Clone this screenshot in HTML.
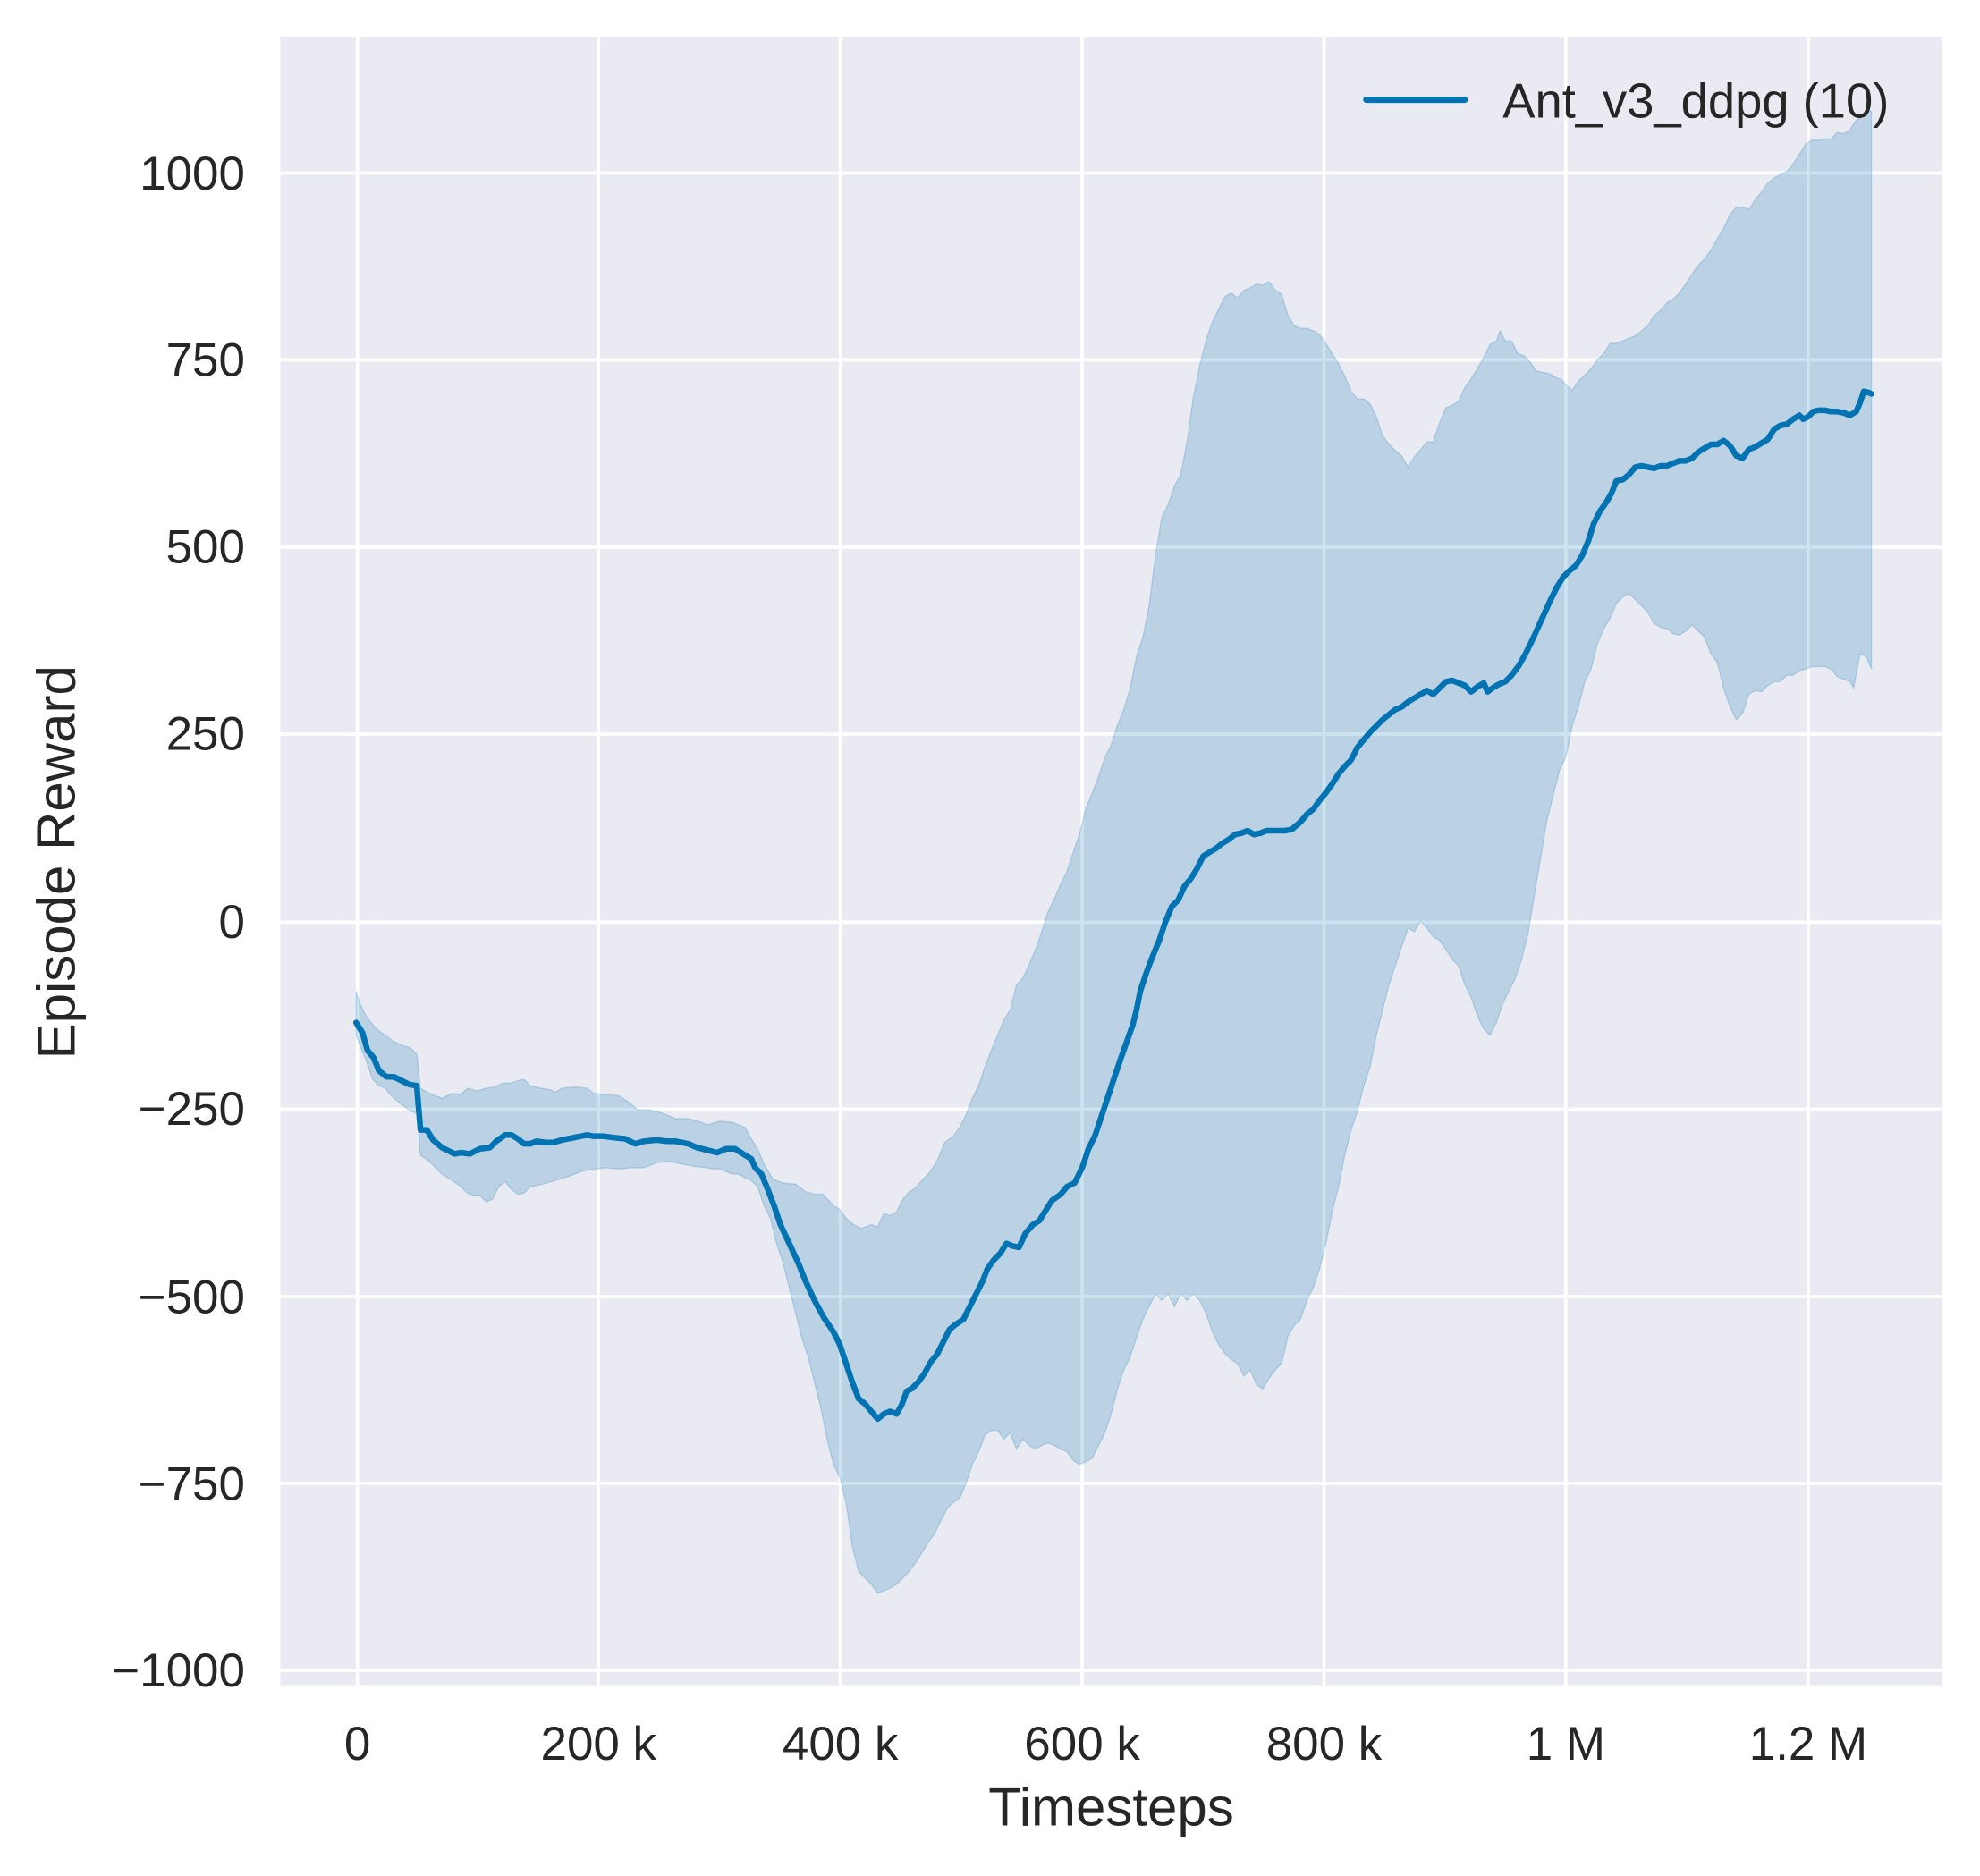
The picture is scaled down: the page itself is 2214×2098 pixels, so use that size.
<!DOCTYPE html>
<html><head><meta charset="utf-8"><style>html,body{margin:0;padding:0;background:#fff}svg{display:block}</style></head><body>
<svg width="2214" height="2098" viewBox="0 0 1568 1486" preserveAspectRatio="none" xmlns="http://www.w3.org/2000/svg" font-family="'Liberation Sans', sans-serif" fill="#262626">
<rect x="0" y="0" width="1568" height="1486" fill="#fff"/>
<rect x="222" y="29" width="1316" height="1306" fill="#eaeaf2"/>
<g stroke="#fff" stroke-width="2.6">
<line x1="283" y1="29" x2="283" y2="1335"/><line x1="474" y1="29" x2="474" y2="1335"/><line x1="665.5" y1="29" x2="665.5" y2="1335"/><line x1="857" y1="29" x2="857" y2="1335"/><line x1="1048.5" y1="29" x2="1048.5" y2="1335"/><line x1="1240" y1="29" x2="1240" y2="1335"/><line x1="1432" y1="29" x2="1432" y2="1335"/>
<line x1="222" y1="137" x2="1538" y2="137"/><line x1="222" y1="285" x2="1538" y2="285"/><line x1="222" y1="433.5" x2="1538" y2="433.5"/><line x1="222" y1="581.5" x2="1538" y2="581.5"/><line x1="222" y1="730.5" x2="1538" y2="730.5"/><line x1="222" y1="878.5" x2="1538" y2="878.5"/><line x1="222" y1="1027" x2="1538" y2="1027"/><line x1="222" y1="1175" x2="1538" y2="1175"/><line x1="222" y1="1323" x2="1538" y2="1323"/>
</g>
<polygon fill="#0173b2" fill-opacity="0.2" stroke="#0173b2" stroke-opacity="0.2" stroke-width="1" points="282,785 285,795 290,805 298,815 305,820 312,825 318,828 325,830 330,835 333,862 340,866 350,870 358,866 365,867 370,862 378,864 385,862 392,861 398,858 405,858 410,856 415,855 420,860 428,862 435,863 440,865 445,862 455,861 465,862 470,866 480,867 490,868 498,873 505,879 515,879 525,882 535,886 545,886 553,888 560,891 570,888 580,889 590,893 595,902 600,910 605,922 612,934 620,937 630,938 638,944 645,946 652,946 660,955 665,958 670,965 676,970 682,973 690,970 695,972 700,961 705,963 710,960 715,950 720,944 725,941 730,935 736,929 742,920 748,905 755,900 760,893 765,883 770,870 775,860 780,845 785,832 790,820 795,808 800,800 805,780 810,775 815,764 820,752 825,738 830,722 835,712 840,700 845,690 850,675 855,660 860,640 865,628 870,615 875,600 880,590 885,574 890,562 895,545 900,520 905,505 910,480 915,440 920,410 925,400 930,385 935,376 940,350 945,315 950,290 955,270 960,255 965,245 970,235 975,232 980,236 985,230 990,228 995,225 1000,226 1005,223 1010,230 1015,233 1020,250 1025,258 1030,260 1035,260 1040,262 1045,265 1050,272 1055,280 1060,288 1065,298 1070,310 1075,316 1080,316 1085,320 1090,330 1095,345 1100,352 1105,357 1110,361 1115,370 1120,362 1125,356 1130,350 1135,350 1140,335 1145,323 1150,321 1155,318 1160,307 1165,300 1170,292 1175,283 1180,273 1185,270 1188,262 1192,270 1197,270 1202,280 1207,282 1212,287 1217,294 1222,295 1227,296 1232,299 1237,301 1240,305 1245,309 1250,302 1255,297 1260,292 1265,285 1270,280 1275,272 1280,272 1285,270 1290,268 1295,266 1300,262 1305,258 1310,250 1315,246 1320,240 1325,237 1330,232 1335,225 1340,217 1345,210 1350,205 1355,198 1360,189 1365,181 1370,170 1375,164 1380,164 1385,166 1390,158 1395,152 1400,145 1405,141 1410,138 1415,136 1420,130 1425,122 1430,114 1435,111 1440,111 1445,110 1450,110 1455,105 1460,106 1465,103 1470,95 1475,92 1480,88 1482,88 1482,530 1478,520 1473,518 1468,545 1465,540 1460,538 1455,536 1450,530 1445,528 1440,528 1435,528 1430,530 1425,531 1420,535 1415,535 1410,540 1405,540 1400,543 1395,548 1390,547 1385,550 1380,565 1375,570 1370,560 1365,545 1360,525 1355,518 1350,505 1345,500 1340,495 1335,500 1330,503 1325,502 1320,498 1315,497 1310,494 1305,485 1300,480 1295,475 1290,470 1285,473 1280,478 1275,490 1270,498 1265,510 1260,530 1255,540 1250,560 1245,575 1240,600 1235,610 1230,630 1225,650 1220,680 1215,710 1210,740 1205,760 1200,775 1195,785 1190,795 1185,810 1180,820 1175,815 1170,805 1165,790 1160,780 1155,765 1150,760 1145,752 1140,745 1135,742 1130,735 1125,730 1120,738 1115,735 1110,750 1105,765 1100,780 1095,800 1090,820 1085,845 1080,860 1075,880 1070,895 1065,915 1060,940 1055,960 1050,985 1045,1005 1040,1020 1035,1030 1030,1045 1025,1050 1020,1058 1015,1080 1010,1085 1005,1092 1000,1100 995,1097 990,1085 985,1090 980,1080 975,1077 970,1072 965,1065 960,1055 955,1040 950,1030 945,1025 940,1030 935,1025 930,1035 925,1025 920,1030 915,1025 910,1035 905,1045 900,1060 895,1075 890,1085 885,1100 880,1120 875,1135 870,1145 865,1155 860,1158 855,1160 850,1157 845,1150 840,1148 835,1145 830,1143 825,1145 820,1148 815,1145 810,1140 805,1148 800,1135 795,1140 790,1133 785,1133 780,1137 775,1150 770,1160 765,1175 760,1187 755,1190 750,1195 745,1205 740,1215 735,1222 730,1230 725,1238 720,1245 715,1250 710,1255 705,1258 700,1260 695,1262 690,1255 685,1250 680,1245 675,1225 670,1190 665,1170 660,1160 655,1140 650,1115 645,1095 640,1075 635,1060 630,1040 625,1020 620,1000 615,985 610,965 605,955 600,940 595,935 590,933 585,930 580,930 575,928 570,926 565,926 560,925 550,924 540,922 530,920 520,921 510,925 500,925 490,926 480,925 470,926 460,928 450,932 440,935 430,938 420,940 415,945 410,946 405,942 400,936 395,940 390,950 385,952 380,947 375,947 370,945 365,940 358,935 350,930 345,925 340,920 333,915 330,882 325,880 318,875 310,868 305,862 300,860 295,855 290,840 285,828 282,820"/>
<polyline fill="none" stroke="#0173b2" stroke-width="4.6" stroke-linejoin="round" stroke-linecap="round" points="282,810 287,818 291,832 296,838 300,848 306,853 312,853 318,856 324,859 330,860 333,895 338,895 343,903 350,909 360,914 365,913 372,914 380,910 388,909 393,904 400,899 405,899 410,902 415,906 420,906 425,904 432,905 438,905 445,903 455,901 465,899 470,900 478,900 485,901 495,902 503,906 510,904 520,903 528,904 535,904 545,906 552,909 560,911 568,913 575,910 582,910 590,915 595,918 598,925 603,930 608,942 613,955 618,970 625,985 632,1000 638,1015 645,1030 652,1043 660,1055 665,1065 670,1080 675,1095 680,1108 685,1112 690,1118 695,1124 700,1120 705,1118 710,1120 714,1113 718,1102 722,1100 727,1095 732,1088 737,1079 742,1073 747,1063 752,1053 757,1049 763,1045 768,1035 773,1025 778,1015 782,1005 787,998 792,993 797,985 802,987 807,988 812,977 818,970 823,967 828,959 833,951 840,946 845,940 851,937 857,925 862,910 867,900 872,885 877,870 882,855 887,840 892,826 897,812 900,800 903,785 908,770 913,757 918,745 923,730 928,718 933,713 938,702 943,696 948,688 953,678 958,675 963,672 968,668 973,665 978,661 983,660 988,658 993,661 998,660 1003,658 1010,658 1018,658 1023,657 1030,651 1035,645 1040,641 1045,634 1050,628 1055,621 1060,613 1065,607 1070,602 1075,592 1080,586 1085,580 1090,575 1095,570 1100,566 1105,562 1110,560 1115,556 1120,553 1125,550 1130,547 1135,550 1140,545 1145,540 1150,539 1155,541 1160,543 1165,548 1170,544 1175,541 1178,548 1182,545 1187,542 1192,540 1197,535 1203,527 1208,518 1213,508 1218,497 1223,486 1228,475 1233,465 1238,457 1243,452 1248,448 1253,440 1258,428 1262,415 1267,405 1272,398 1276,391 1280,381 1285,380 1290,376 1295,370 1300,369 1305,370 1310,371 1315,369 1320,369 1325,367 1330,365 1335,365 1340,363 1345,358 1350,355 1355,352 1360,352 1365,349 1370,353 1375,361 1380,363 1385,356 1390,354 1395,351 1400,348 1405,340 1410,337 1415,336 1420,332 1425,329 1428,332 1432,330 1436,326 1440,325 1445,325 1450,326 1455,326 1460,327 1465,329 1470,326 1473,319 1476,310 1480,311 1482,312"/>
<line x1="1082" y1="79" x2="1160" y2="79" stroke="#0173b2" stroke-width="5" stroke-linecap="round"/>
<text x="1190" y="93" font-size="38.5">Ant_v3_ddpg (10)</text>
<g font-size="37.5" text-anchor="end">
<text x="194" y="150">1000</text><text x="194" y="298">750</text><text x="194" y="446">500</text><text x="194" y="594">250</text><text x="194" y="743">0</text><text x="194" y="891">−250</text><text x="194" y="1040">−500</text><text x="194" y="1188">−750</text><text x="194" y="1336">−1000</text>
</g>
<g font-size="37.5" text-anchor="middle">
<text x="283" y="1394">0</text><text x="474" y="1394">200 k</text><text x="665.5" y="1394">400 k</text><text x="857" y="1394">600 k</text><text x="1048.5" y="1394">800 k</text><text x="1240" y="1394">1 M</text><text x="1432" y="1394">1.2 M</text>
</g>
<text x="880" y="1446" font-size="42.5" text-anchor="middle">Timesteps</text>
<text x="0" y="0" font-size="42.5" text-anchor="middle" transform="translate(59,683) rotate(-90)">Episode Reward</text>
</svg>
</body></html>
